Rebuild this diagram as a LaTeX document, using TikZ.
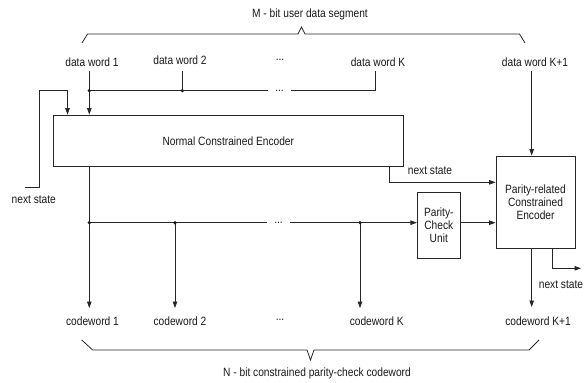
\documentclass[tikz,border=0pt]{standalone}
\usepackage{fontspec}
\setmainfont{Liberation Sans}[FakeStretch=0.85]
\usetikzlibrary{arrows.meta}
\begin{document}
\begin{tikzpicture}[x=1pt,y=-1pt,
  line width=0.8pt, draw=black!85,
  every node/.style={font=\fontsize{12}{13}\selectfont, inner sep=0pt, text=black!90},
  box/.style={draw=black!85, line width=0.8pt, align=center},
  arr/.style={-{Triangle[length=6.5pt,width=4.5pt]}},
  dotfill/.style={fill=black!90}]
\useasboundingbox (0,0) rectangle (584,383);

% labels
\node (mlab) at (310,14) {M - bit user data segment};
\node (dw1) at (92,62) {data word 1};
\node (dw2) at (180,60) {data word 2};
\node (dwdots) at (280,60) {...};
\node (dwK) at (378,62) {data word K};
\node (dwK1) at (535,62) {data word K+1};

\node (cw1) at (92.5,321) {codeword 1};
\node (cw2) at (180,321) {codeword 2};
\node (cwdots) at (280,320) {...};
\node (cwK) at (376.7,321) {codeword K};
\node (cwK1) at (538,321) {codeword K+1};
\node (nlab) at (317,373) {N - bit constrained parity-check codeword};

% boxes
\node[box, minimum width=350pt, minimum height=51.7pt] (nce) at (228.3,140.85) {Normal Constrained Encoder};
\node[box, minimum width=79pt, minimum height=92.3pt] (prce) at (535.5,202.15) {Parity-related\\Constrained\\Encoder};
\node[box, minimum width=43pt, minimum height=66.4pt] (pcu) at (438.8,225.5) {Parity-\\Check\\Unit};

\node (ns1) at (33.8,200) {next state};
\node (ns2) at (430,170.7) {next state};
\node[anchor=east] (ns3) at (583.5,285) {next state};

\node[minimum width=22.5pt] (busdots) at (279.5,90.7) {...};
\node[minimum width=23pt] (bus2dots) at (278.5,222.7) {...};

% coordinates
\coordinate (a1) at (89.3,70.5);
\coordinate (j1) at (89.3,90.7);
\coordinate (a2) at (182.3,70.5);
\coordinate (j2) at (182.3,90.7);
\coordinate (aK) at (375,70.5);
\coordinate (jK) at (375,90.7);
\coordinate (aK1) at (531.7,70.5);
\coordinate (f1) at (25,187.3);
\coordinate (f2) at (39.3,187.3);
\coordinate (f3) at (39.3,90.7);
\coordinate (f4) at (67.5,90.7);
\coordinate (n1) at (389,182.3);
\coordinate (k1) at (89.3,222.7);
\coordinate (k2) at (175,222.7);
\coordinate (kK) at (360,222.7);
\coordinate (t1) at (89.3,308);
\coordinate (t2) at (175,308);
\coordinate (tK) at (360,308);
\coordinate (tK1) at (531.7,307);
\coordinate (o1) at (552.7,268.3);
\coordinate (o2) at (581,268.3);

% top bus
\draw (j1) -- (busdots.west);
\draw (busdots.east) -- (jK) -- (aK);
\draw (a2) -- (j2);
\draw[arr] (a1) -- (j1) -- (j1 |- nce.north);
\draw[arr] (f1) -- (f2) -- (f3) -- (f4) -- (f4 |- nce.north);
\draw[arr] (aK1) -- (aK1 |- prce.north);
\fill[dotfill] (j1) circle (1.8pt);
\fill[dotfill] (j2) circle (1.8pt);

% next state into parity encoder
\draw[arr] (n1 |- nce.south) -- (n1) -- (n1 -| prce.west);

% bottom bus
\draw[arr] (k1 |- nce.south) -- (k1) -- (t1);
\draw (k1) -- (bus2dots.west);
\draw[arr] (bus2dots.east) -- (kK -| pcu.west);
\draw[arr] (k2) -- (t2);
\draw[arr] (kK) -- (tK);
\draw[arr] (pcu.east |- kK) -- (kK -| prce.west);
\fill[dotfill] (k1) circle (1.8pt);
\fill[dotfill] (k2) circle (1.8pt);
\fill[dotfill] (kK) circle (1.8pt);

% outputs of parity encoder
\draw[arr] (aK1 |- prce.south) -- (tK1);
\draw[arr] (o1 |- prce.south) -- (o1) -- (o2);

% braces
\draw (82,43) -- (87.5,34) -- (298,34) -- (301.5,27) -- (305,34) -- (519.5,34) -- (525,43);
\draw (81.7,340) -- (92.7,350) -- (307,350) -- (310.5,360) -- (314,350) -- (529,350) -- (539,340);
\end{tikzpicture}
\end{document}
